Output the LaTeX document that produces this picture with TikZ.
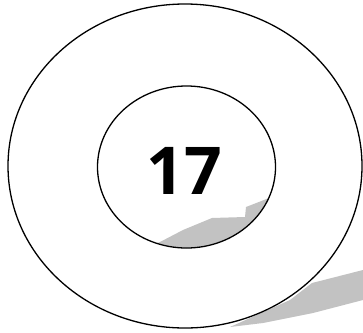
\documentclass[tikz,border=0pt]{standalone}
\usepackage{fontspec}
\setmainfont{Open Sans}
\usetikzlibrary{shapes.geometric}
\definecolor{shadowgray}{gray}{0.76}
\tikzset{
  ring/.style={ellipse, draw=black, line width=1.3pt, fill=white, inner sep=0pt},
  shade/.style={fill=shadowgray, draw=none}
}
\begin{document}
\begin{tikzpicture}[x=1pt, y=-1pt]
\useasboundingbox (0,0) rectangle (363,332);
% outer shadow
\fill[shade] (363,270) -- (312,283) -- (290,300) -- (230,327) -- (263,323) -- (313,313) -- (363,300) -- cycle;
\node (outer) [ring, minimum width=354pt, minimum height=324pt] at (185,166) {};
\node (inner) [ring, draw=none, minimum width=178pt, minimum height=162pt] at (186.5,167) {};
% shadow inside the inner ellipse
\begin{scope}
  \clip (186.5,167) ellipse [x radius=89, y radius=81];
  \fill[shade] (160,242) -- (183,230) -- (212,218) -- (245,217) -- (246,207) -- (264,200) -- (300,185) -- (300,270) -- (140,270) -- (140,250) -- cycle;
\end{scope}
\node (innerline) [ring, fill=none, minimum width=178pt, minimum height=162pt] at (inner) {};
\node (num) at (184.5,171) {\bfseries\fontsize{66}{66}\selectfont 17};
\end{tikzpicture}
\end{document}
